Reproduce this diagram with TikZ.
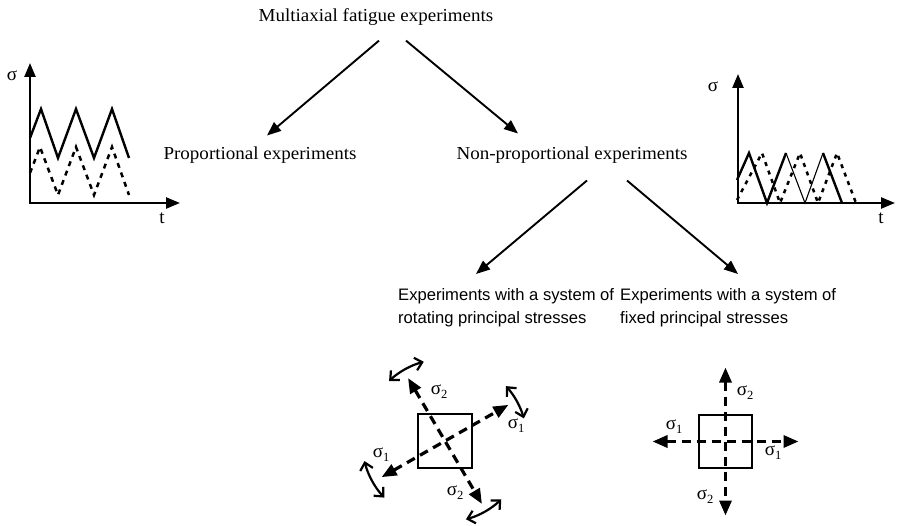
\documentclass[tikz,border=0pt]{standalone}
\usepackage{fontspec}
\setmainfont{Liberation Serif}
\newfontfamily\serifw[FakeStretch=1.04]{Liberation Serif}
\newfontfamily\sansf{Liberation Sans}
\usetikzlibrary{arrows.meta,calc}
\newcommand\sgm[1]{σ\raisebox{-0.45ex}{\fontsize{12.5}{12.5}\selectfont #1}}
\begin{document}
\begin{tikzpicture}[x=1pt,y=-1pt,
 arr/.style={line width=1.9pt,-{Triangle[length=14pt,width=11pt]}},
 lbl/.style={font=\serifw\fontsize{18.3}{20}\selectfont, inner sep=0pt},
 slbl/.style={font=\sansf\fontsize{16.6}{23}\selectfont, align=left, inner sep=0pt},
 sig/.style={font=\fontsize{19}{19}\selectfont, inner sep=0pt},
 axis/.style={line width=2.4pt,-{Triangle[length=14pt,width=11pt]}},
 sol/.style={line width=2.4pt, line join=miter},
 thinl/.style={line width=1.1pt},
 dsh/.style={line width=2.5pt, dash pattern=on 5pt off 5pt},
 sq/.style={draw, line width=2.5pt, minimum size=54pt, inner sep=0pt},
 stress/.style={line width=3.2pt, dash pattern=on 9pt off 6pt, {Triangle[length=15pt,width=12pt]}-{Triangle[length=15pt,width=12pt]}},
 rotarr/.style={line width=2.2pt, {Straight Barb[length=7pt,width=13pt]}-{Straight Barb[length=7pt,width=13pt]}}
]
\useasboundingbox (0,0) rectangle (918,526);

% texts
\node[lbl] (title) at (376,17) {Multiaxial fatigue experiments};
\node[lbl] (prop) at (260,155) {Proportional experiments};
\node[lbl] (nonp) at (572,155) {Non-proportional experiments};
\node[slbl, anchor=west] (rotT) at (398,308) {Experiments with a system of\\rotating principal stresses};
\node[slbl, anchor=west] (fixT) at (620,308) {Experiments with a system of\\fixed principal stresses};

% connectors
\draw[arr] ([shift={(3,15)}]title.south) -- ([shift={(7,-11)}]prop.north);
\draw[arr] ([shift={(30,15)}]title.south) -- ([shift={(-54,-13)}]nonp.north);
\draw[arr] ([shift={(15,17)}]nonp.south) -- ([shift={(78,-34)}]rotT.west);
\draw[arr] ([shift={(55,17)}]nonp.south) -- ([shift={(118,-34)}]fixT.west);

% left chart
\draw[axis] (30,204) -- (30,63);
\draw[axis] (29,203) -- (180,203);
\draw[sol] (30,138) -- (41,109) -- (58,158) -- (76,109) -- (94,158) -- (112,109) -- (129,158);
\draw[dsh] (30,173) -- (40,147) -- (58,195) -- (76,147) -- (94,195) -- (112,147) -- (129,195);
\node[sig] (ls) at (12,76) {σ};
\node[sig] (lt) at (162,218) {t};

% right chart
\draw[axis] (738,204) -- (738,74);
\draw[axis] (737,203) -- (895,203);
\draw[sol] (737,180) -- (749,153) -- (767,203) -- (786,153);
\draw[thinl] (786,153) -- (805,203) -- (823,153);
\draw[sol] (823,153) -- (842,203);
\draw[dsh, dash pattern=on 4pt off 5pt] (737,200) -- (762,153) -- (780,203) -- (800,153) -- (818,203) -- (837,153) -- (856,203);
\node[sig] (rs) at (713,87) {σ};
\node[sig] (rt) at (881,218) {t};

% rotating principal stresses
\node[sq] (sqA) at (445,441) {};
\draw[stress] ($(sqA.center)+(150.3:73)$) -- ($(sqA.center)+(-29.7:73)$);
\draw[stress] ($(sqA.center)+(-120.4:73)$) -- ($(sqA.center)+(59.6:73)$);
\draw[rotarr] ($(sqA.center)+(-42:82)$) arc[start angle=-42, end angle=-16, radius=82];
\draw[rotarr] ($(sqA.center)+(-133:82)$) arc[start angle=-133, end angle=-105, radius=82];
\draw[rotarr] ($(sqA.center)+(137:83)$) arc[start angle=137, end angle=166, radius=83];
\draw[rotarr] ($(sqA.center)+(46:81)$) arc[start angle=46, end angle=75, radius=81];
\node[sig] (a2t) at (439,392) {\sgm{2}};
\node[sig] (a1r) at (516,426) {\sgm{1}};
\node[sig] (a1l) at (381,455) {\sgm{1}};
\node[sig] (a2b) at (455,493) {\sgm{2}};

% fixed principal stresses
\node[sq, minimum size=53pt] (sqB) at (725.5,441.5) {};
\draw[stress] ($(sqB.center)+(-73,0)$) -- ($(sqB.center)+(73,0)$);
\draw[stress] ($(sqB.center)+(0,-74)$) -- ($(sqB.center)+(0,74)$);
\node[sig] (b2t) at (745,393) {\sgm{2}};
\node[sig] (b1l) at (674,427) {\sgm{1}};
\node[sig] (b1r) at (773,453) {\sgm{1}};
\node[sig] (b2b) at (705,497) {\sgm{2}};
\end{tikzpicture}
\end{document}
